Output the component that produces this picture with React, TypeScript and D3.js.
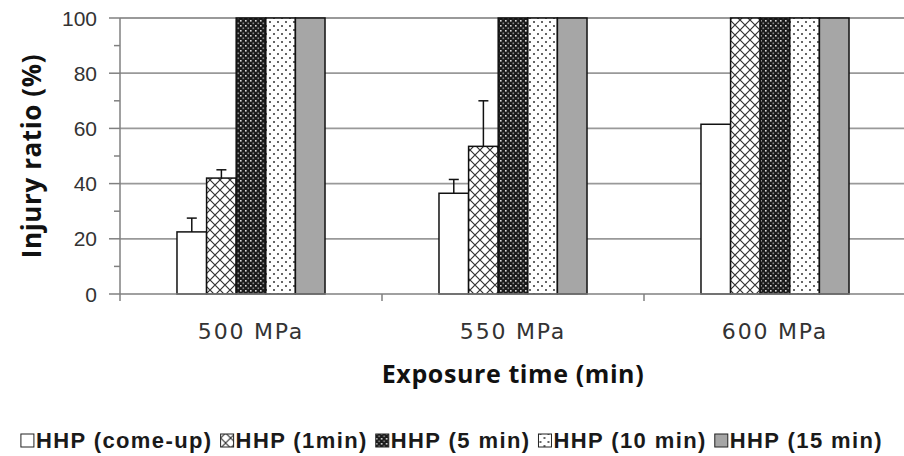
import * as d3 from 'd3';
import { useEffect, useRef } from 'react';

const categories = ['500 MPa', '550 MPa', '600 MPa'];
const seriesNames = ['HHP (come-up)', 'HHP (1min)', 'HHP (5 min)', 'HHP (10 min)', 'HHP (15 min)'];
const comeUp = [22.5, 36.5, 61.5];
const comeUpErr = [5, 5, 0];
const oneMin = [42, 53.5, 100];
const oneMinErr = [3, 16.5, 0];
const fiveMin = [100, 100, 100];
const tenMin = [100, 100, 100];
const fifteenMin = [100, 100, 100];
const yTicks = [0, 20, 40, 60, 80, 100];
const yMinorTicks = [10, 30, 50, 70, 90];

const fills = ['#ffffff', 'url(#pCross)', 'url(#pDark)', 'url(#pDots)', '#a6a6a6'];

export default function App() {
  const svgRef = useRef<SVGSVGElement>(null);
  const width = 904;
  const height = 456;
  const marginTop = 18;
  const marginLeft = 120;
  const marginRight = -2;
  const marginBottom = 162;

  useEffect(() => {
    document.body.style.margin = '0';
    const values = [comeUp, oneMin, fiveMin, tenMin, fifteenMin];
    const errors = [comeUpErr, oneMinErr, [0, 0, 0], [0, 0, 0], [0, 0, 0]];

    const svg = d3.select(svgRef.current);
    svg.selectAll('*').remove();
    svg.attr('width', width).attr('height', height).attr('viewBox', [0, 0, width, height]);

    // patterns
    const defs = svg.append('defs');
    const pc = defs.append('pattern').attr('id', 'pCross').attr('patternUnits', 'userSpaceOnUse')
      .attr('width', 10).attr('height', 10);
    pc.append('rect').attr('width', 10).attr('height', 10).attr('fill', '#fff');
    pc.append('path').attr('d', 'M0,0L10,10M10,0L0,10').attr('stroke', '#333').attr('stroke-width', 1.2);
    const pd = defs.append('pattern').attr('id', 'pDark').attr('patternUnits', 'userSpaceOnUse')
      .attr('width', 5).attr('height', 5);
    pd.append('rect').attr('width', 5).attr('height', 5).attr('fill', '#1a1a1a');
    pd.append('rect').attr('x', 0).attr('y', 0).attr('width', 1.6).attr('height', 1.6).attr('fill', '#ddd');
    pd.append('rect').attr('x', 2.5).attr('y', 2.5).attr('width', 1.6).attr('height', 1.6).attr('fill', '#888');
    const pt = defs.append('pattern').attr('id', 'pDots').attr('patternUnits', 'userSpaceOnUse')
      .attr('width', 8).attr('height', 8);
    pt.append('rect').attr('width', 8).attr('height', 8).attr('fill', '#fff');
    pt.append('rect').attr('x', 1).attr('y', 1).attr('width', 2).attr('height', 2).attr('fill', '#666');
    pt.append('rect').attr('x', 5).attr('y', 5).attr('width', 2).attr('height', 2).attr('fill', '#666');

    const x0 = d3.scaleBand().domain(categories).range([marginLeft, width - marginRight]);
    const bw = x0.bandwidth();
    const groupW = bw * 0.565;
    const x1 = d3.scaleBand().domain(seriesNames).range([(bw - groupW) / 2, (bw + groupW) / 2]);
    const y = d3.scaleLinear().domain([0, 100]).range([height - marginBottom, marginTop]);

    // grid
    svg.append('g').selectAll('line').data(yTicks.filter((d) => d > 0)).join('line')
      .attr('x1', marginLeft).attr('x2', width)
      .attr('y1', (d) => y(d)).attr('y2', (d) => y(d))
      .attr('stroke', '#999').attr('stroke-width', 1.8);

    // bars
    seriesNames.forEach((s, si) => {
      svg.append('g').selectAll('rect').data(categories).join('rect')
        .attr('x', (c) => x0(c)! + x1(s)!)
        .attr('y', (c, i) => y(values[si][i]))
        .attr('width', x1.bandwidth())
        .attr('height', (c, i) => y(0) - y(values[si][i]))
        .attr('fill', fills[si])
        .attr('stroke', '#111').attr('stroke-width', 1.5);
    });

    // error bars (plus only)
    seriesNames.forEach((s, si) => {
      const g = svg.append('g').attr('stroke', '#111').attr('stroke-width', 1.5);
      categories.forEach((c, i) => {
        const e = errors[si][i];
        if (!e) return;
        const cx = x0(c)! + x1(s)! + x1.bandwidth() / 2;
        g.append('line').attr('x1', cx).attr('x2', cx).attr('y1', y(values[si][i])).attr('y2', y(values[si][i] + e));
        g.append('line').attr('x1', cx - 5).attr('x2', cx + 5).attr('y1', y(values[si][i] + e)).attr('y2', y(values[si][i] + e));
      });
    });

    // y axis
    const ya = svg.append('g').attr('stroke', '#808080').attr('stroke-width', 1.5);
    ya.append('line').attr('x1', marginLeft).attr('x2', marginLeft).attr('y1', y(100)).attr('y2', y(0) + 7);
    ya.selectAll('.maj').data(yTicks).join('line').attr('class', 'maj')
      .attr('x1', marginLeft - 11).attr('x2', marginLeft).attr('y1', (d) => y(d)).attr('y2', (d) => y(d));
    ya.selectAll('.min').data(yMinorTicks).join('line').attr('class', 'min')
      .attr('x1', marginLeft - 6).attr('x2', marginLeft).attr('y1', (d) => y(d)).attr('y2', (d) => y(d));
    svg.append('g').selectAll('text').data(yTicks).join('text')
      .attr('x', marginLeft - 23).attr('y', (d) => y(d)).attr('dy', '0.36em')
      .attr('text-anchor', 'end').attr('fill', '#333')
      .style('font', '21px "Liberation Sans", Arial, sans-serif')
      .text((d) => d);

    // x axis
    const xa = svg.append('g').attr('stroke', '#808080').attr('stroke-width', 1.5);
    xa.append('line').attr('x1', marginLeft).attr('x2', width).attr('y1', y(0)).attr('y2', y(0));
    xa.selectAll('line.t').data(categories.slice(1)).join('line').attr('class', 't')
      .attr('x1', (c) => x0(c)!).attr('x2', (c) => x0(c)!).attr('y1', y(0)).attr('y2', y(0) + 7);
    svg.append('g').selectAll('text').data(categories).join('text')
      .attr('x', (c) => x0(c)! + bw / 2).attr('y', y(0) + 45)
      .attr('text-anchor', 'middle').attr('fill', '#333')
      .style('font', '22px "DejaVu Sans", sans-serif').style('letter-spacing', '1.8px')
      .text((d) => d);

    // axis titles
    svg.append('text').attr('x', x0(categories[1])! + bw / 2).attr('y', 383)
      .attr('text-anchor', 'middle').attr('fill', '#111')
      .style('font', 'bold 25px "Open Sans", "Liberation Sans", sans-serif').style('letter-spacing', '0.6px')
      .text('Exposure time (min)');
    svg.append('text').attr('transform', `translate(41,${(y(0) + y(100)) / 2}) rotate(-90)`)
      .attr('text-anchor', 'middle').attr('fill', '#111')
      .style('font', 'bold 26px "Open Sans", "Liberation Sans", sans-serif').style('letter-spacing', '0.6px')
      .text('Injury ratio (%)');

    // legend
    const lg = svg.append('g');
    let cx = 0;
    seriesNames.forEach((s, si) => {
      const it = lg.append('g').attr('transform', `translate(${cx},0)`);
      it.append('rect').attr('x', 0).attr('y', -14).attr('width', 13).attr('height', 13)
        .attr('fill', fills[si]).attr('stroke', '#222').attr('stroke-width', 1);
      const t = it.append('text').attr('x', 15).attr('y', 0).attr('fill', '#1a1a1a')
        .style('font', 'bold 22px "Liberation Sans", Arial, sans-serif').style('letter-spacing', '1.4px')
        .text(s);
      cx += 15 + (t.node() as SVGTextElement).getComputedTextLength() + 8;
    });
    lg.attr('transform', `translate(${(width - (cx - 8)) / 2},448)`);
  });

  return <svg ref={svgRef} style={{ display: 'block' }}></svg>;
}
